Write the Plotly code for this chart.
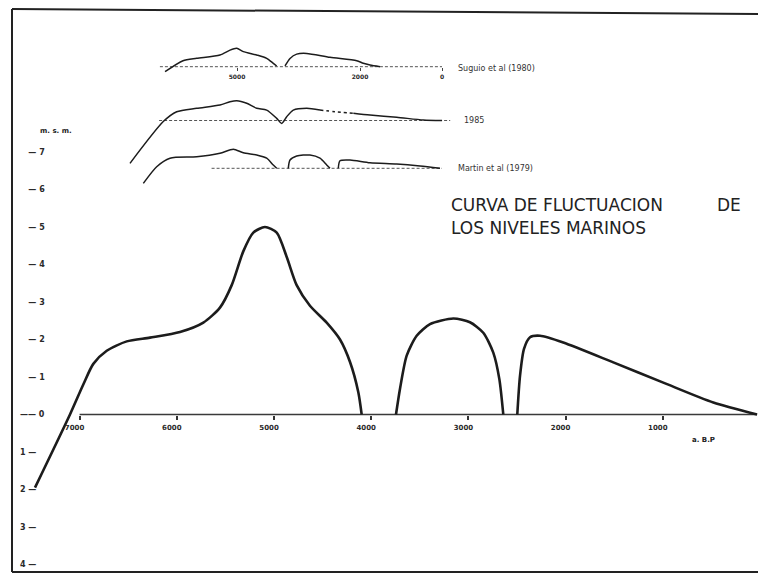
import plotly.graph_objects as go

W, H = 758, 574

# ---------------- data (years B.P. / metres relative to present sea level) -------------
MAIN_SEG1_YEARS = [7459, 7099, 6962, 6859, 6721, 6515, 6276, 5967, 5727, 5556, 5435, 5316,
                   5213, 5093, 4972, 4869, 4767, 4630, 4458, 4321, 4218, 4133, 4098]
MAIN_SEG1_LEVEL = [-1.95, 0, 0.8, 1.35, 1.7, 1.95, 2.05, 2.2, 2.45, 2.85, 3.45, 4.35,
                   4.85, 5.0, 4.85, 4.2, 3.45, 2.9, 2.45, 2.0, 1.4, 0.6, 0]
MAIN_SEG2_YEARS = [3745, 3704, 3635, 3532, 3395, 3155, 2984, 2847, 2744, 2682, 2641]
MAIN_SEG2_LEVEL = [0, 0.68, 1.57, 2.10, 2.41, 2.56, 2.46, 2.18, 1.65, 0.95, 0]
MAIN_SEG3_YEARS = [2497, 2469, 2428, 2366, 2263, 2024, 1509, 995, 480, 30]
MAIN_SEG3_LEVEL = [0, 1.03, 1.75, 2.06, 2.10, 1.92, 1.39, 0.85, 0.32, 0]
MAIN_BASE_YEARS = [7000, 30]
MAIN_BASE_LEVEL = [0, 0]

X_TICKS = [7000, 6000, 5000, 4000, 3000, 2000, 1000]
X_TICK_TEXT = ["7000", "6000", "5000", "4000", "3000", "2000", "1000"]
Y_TICKS = [7, 6, 5, 4, 3, 2, 1, 0, -1, -2, -3, -4]
NB = "\u00a0"
Y_TICK_TEXT = [NB * 3 + "— " + str(v) for v in [7, 6, 5, 4, 3, 2, 1]] + \
              ["—— 0"] + [str(v) + " —" for v in [1, 2, 3, 4]]

# inset 1 : Suguio et al (1980)
INS1A_YEARS = [6755, 6317, 5983, 5415, 5171, 5007, 4846, 4520, 4276, 4115, 4032]
INS1A_LEVEL = [-1.4, 1.67, 2.33, 3.25, 4.6, 5.1, 4.2, 3.25, 2.33, 0.94, 0.2]
INS1B_YEARS = [3829, 3707, 3544, 3300, 2732, 2080, 1920, 1756, 1512]
INS1B_LEVEL = [0.2, 2.3, 3.5, 3.7, 2.6, 1.67, 0.94, 0.47, 0]
INS1_BASE_YEARS = [6880, 0]
INS1_TICKS = [5000, 2000, 0]
INS1_TICK_TEXT = ["5000", "2000", "0"]

# inset 2 : 1985
INS2A_YEARS = [7610, 6798, 6471, 5983, 5415, 5171, 5007, 4763, 4520, 4276, 4032, 3910,
               3788, 3627, 3300, 2976]
INS2A_LEVEL = [-11.9, -0.3, 2.44, 3.4, 4.3, 5.2, 5.5, 4.8, 3.4, 2.9, 0.6, -0.8,
               1.05, 2.9, 3.4, 2.9]
INS2B_YEARS = [2976, 2610, 2163]
INS2B_LEVEL = [2.9, 2.44, 2.0]
INS2C_YEARS = [2163, 1756, 1105, 456, 0]
INS2C_LEVEL = [2.0, 1.5, 0.9, 0.14, 0]
INS2_BASE_YEARS = [6900, -200]

# inset 3 : Martin et al (1979)
INS3A_YEARS = [7285, 6959, 6634, 5983, 5415, 5090, 4846, 4520, 4276, 4115, 4032]
INS3A_LEVEL = [-4.2, 0.44, 2.8, 3.2, 4.2, 5.3, 4.3, 3.7, 2.8, 0.9, 0]
INS3B_YEARS = [3749, 3707, 3544, 3220, 2976, 2812, 2732]
INS3B_LEVEL = [0, 2.3, 3.4, 3.7, 2.8, 0.9, 0]
INS3C_YEARS = [2529, 2488, 2244, 1756, 1105, 537, 49]
INS3C_LEVEL = [0, 2.1, 2.3, 1.55, 1.2, 0.64, 0]
INS3_BASE_YEARS = [5620, 0]

INSET_LABELS = ["Suguio et al (1980)", "1985", "Martin et al (1979)"]
TITLE_LINES = ["CURVA DE FLUCTUACION" + NB * 10 + "DE", "LOS NIVELES MARINOS"]

# ---------------- helpers ----------------
def px(x):
    return x / W

def py(y):
    return 1 - y / H

INK = "#1c1c1c"
FONT = "DejaVu Sans"

fig = go.Figure()

def add_line(xs, ys, xa="x", ya="y", width=2.6, dash="solid", color=INK, smooth=True):
    fig.add_trace(go.Scatter(
        x=xs, y=ys, xaxis=xa, yaxis=ya, mode="lines",
        line=dict(color=color, width=width, dash=dash,
                  shape="spline" if smooth else "linear", smoothing=0.7),
        hoverinfo="skip", showlegend=False))

# main figure
add_line(MAIN_BASE_YEARS, MAIN_BASE_LEVEL, width=1.6, color="#3a3a3a", smooth=False)
add_line(MAIN_SEG1_YEARS, MAIN_SEG1_LEVEL)
add_line(MAIN_SEG2_YEARS, MAIN_SEG2_LEVEL)
add_line(MAIN_SEG3_YEARS, MAIN_SEG3_LEVEL)

# insets
zeros = lambda a: [0] * len(a)
add_line(INS1_BASE_YEARS, zeros(INS1_BASE_YEARS), "x2", "y2", width=1, dash="3px,2px", color="#555", smooth=False)
add_line(INS1A_YEARS, INS1A_LEVEL, "x2", "y2", width=1.5)
add_line(INS1B_YEARS, INS1B_LEVEL, "x2", "y2", width=1.5)

add_line(INS2_BASE_YEARS, zeros(INS2_BASE_YEARS), "x3", "y3", width=1, dash="3px,2px", color="#555", smooth=False)
add_line(INS2A_YEARS, INS2A_LEVEL, "x3", "y3", width=1.5)
add_line(INS2B_YEARS, INS2B_LEVEL, "x3", "y3", width=1.5, dash="dot")
add_line(INS2C_YEARS, INS2C_LEVEL, "x3", "y3", width=1.5)

add_line(INS3_BASE_YEARS, zeros(INS3_BASE_YEARS), "x4", "y4", width=1, dash="3px,2px", color="#555", smooth=False)
add_line(INS3A_YEARS, INS3A_LEVEL, "x4", "y4", width=1.5)
add_line(INS3B_YEARS, INS3B_LEVEL, "x4", "y4", width=1.5)
add_line(INS3C_YEARS, INS3C_LEVEL, "x4", "y4", width=1.5)

# ---------------- axes ----------------
MAIN_ZERO_PX = 414.5
MAIN_PX_PER_M = 37.5
MAIN_X0_PX, MAIN_PX_PER_YR = 760, 0.0972
main_x_range = [(MAIN_X0_PX - 12) / MAIN_PX_PER_YR, (MAIN_X0_PX - W) / MAIN_PX_PER_YR]
main_y_range = [-(H - MAIN_ZERO_PX) / MAIN_PX_PER_M, MAIN_ZERO_PX / MAIN_PX_PER_M]

INS_X0_PX, INS_PX_PER_YR = 442, 0.041
ins_x_dom = [120, 460]
ins_x_range = [(INS_X0_PX - ins_x_dom[0]) / INS_PX_PER_YR, (INS_X0_PX - ins_x_dom[1]) / INS_PX_PER_YR]
INS_PX_PER_M = 3.6

def ins_y(base_px, top_px, bot_px):
    dom = [py(bot_px), py(top_px)]
    rng = [(base_px - bot_px) / INS_PX_PER_M, (base_px - top_px) / INS_PX_PER_M]
    return dom, rng

d2, r2 = ins_y(66.7, 36, 84)
d3, r3 = ins_y(120.5, 88, 172)
d4, r4 = ins_y(168.3, 138, 192)

hidden = dict(showgrid=False, zeroline=False, showline=False, showticklabels=False, ticks="")

layout = dict(
    width=W, height=H,
    margin=dict(l=0, r=0, t=0, b=0),
    paper_bgcolor="#ffffff", plot_bgcolor="rgba(0,0,0,0)",
    showlegend=False,
    xaxis=dict(domain=[px(12), 1], range=main_x_range, anchor="free", position=py(MAIN_ZERO_PX),
               showgrid=False, zeroline=False, showline=False,
               tickmode="array", tickvals=X_TICKS, ticktext=X_TICK_TEXT,
               ticks="outside", ticklen=4, tickwidth=1.5, tickcolor="#333",
               ticklabelshift=5, ticklabelstandoff=2,
               tickfont=dict(family=FONT, size=7, color="#2a2a2a", weight="bold")),
    yaxis=dict(domain=[0, 1], range=main_y_range, anchor="x",
               showgrid=False, zeroline=False, showline=False,
               tickmode="array", tickvals=Y_TICKS, ticktext=Y_TICK_TEXT,
               ticks="", ticklabelposition="inside", ticklabelstandoff=5,
               tickfont=dict(family=FONT, size=8, color="#2a2a2a", weight="bold")),
    xaxis2=dict(domain=[px(ins_x_dom[0]), px(ins_x_dom[1])], range=ins_x_range,
                anchor="free", position=py(66.7),
                showgrid=False, zeroline=False, showline=False,
                tickmode="array", tickvals=INS1_TICKS, ticktext=INS1_TICK_TEXT,
                ticks="outside", ticklen=3, tickwidth=1, tickcolor="#444",
                ticklabelstandoff=1,
                tickfont=dict(family=FONT, size=6, color="#2a2a2a", weight="bold")),
    yaxis2=dict(domain=d2, range=r2, anchor="x2", **hidden),
    xaxis3=dict(domain=[px(ins_x_dom[0]), px(ins_x_dom[1])], range=ins_x_range, anchor="y3", **hidden),
    yaxis3=dict(domain=d3, range=r3, anchor="x3", **hidden),
    xaxis4=dict(domain=[px(ins_x_dom[0]), px(ins_x_dom[1])], range=ins_x_range, anchor="y4", **hidden),
    yaxis4=dict(domain=d4, range=r4, anchor="x4", **hidden),
)
fig.update_layout(**layout)

# ---------------- frame ----------------
for (x0, y0, x1, y1) in [(12, 9, 12, 572), (12, 9, 758, 14), (12, 572, 758, 572)]:
    fig.add_shape(type="line", xref="paper", yref="paper",
                  x0=px(x0), y0=py(y0), x1=px(x1), y1=py(y1),
                  line=dict(color="#222", width=2))

# ---------------- text ----------------
def note(text, x, y, size, xanchor="left", bold=False, color="#222"):
    fig.add_annotation(text=text, x=px(x), y=py(y), xref="paper", yref="paper",
                       xanchor=xanchor, yanchor="middle", showarrow=False,
                       font=dict(family=FONT, size=size, color=color,
                                 weight="bold" if bold else "normal"))

note(TITLE_LINES[0], 449, 205, 17)
note(TITLE_LINES[1], 449, 228, 17)
note(INSET_LABELS[0], 456, 68, 8, color="#333")
note(INSET_LABELS[1], 462, 121, 8, color="#333")
note(INSET_LABELS[2], 456, 168, 8, color="#333")
note("m. s. m.", 38, 131, 7, bold=True)
note("a. B.P", 690, 440, 7, bold=True)

fig.write_html("out.html", config={"displayModeBar": False},
               post_script="document.body.style.margin='0';")
